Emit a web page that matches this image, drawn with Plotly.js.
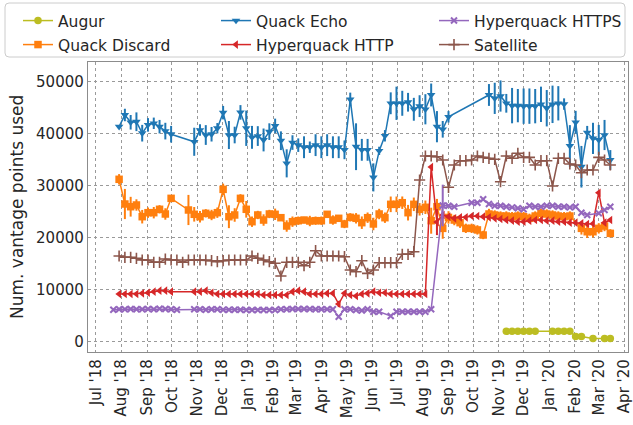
<!DOCTYPE html>
<html>
<head>
<meta charset="utf-8">
<script src="https://cdn.plot.ly/plotly-3.0.1.min.js"></script>
<style>html,body{margin:0;padding:0;background:#fff;}#chart{width:633px;height:425px;}</style>
</head>
<body>
<div id="chart"></div>
<script>
// Weekly measurement dates
var dates = [
 '2018-07-22','2018-07-29','2018-08-05','2018-08-12','2018-08-19','2018-08-26',
 '2018-09-02','2018-09-09','2018-09-16','2018-09-23','2018-09-30',
 '2018-10-07','2018-10-14','2018-10-21','2018-10-28',
 '2018-11-04','2018-11-11','2018-11-18','2018-11-25',
 '2018-12-02','2018-12-09','2018-12-16','2018-12-23','2018-12-30',
 '2019-01-06','2019-01-13','2019-01-20','2019-01-27',
 '2019-02-03','2019-02-10','2019-02-17','2019-02-24',
 '2019-03-03','2019-03-10','2019-03-17','2019-03-24','2019-03-31',
 '2019-04-07','2019-04-14','2019-04-21','2019-04-28',
 '2019-05-05','2019-05-12','2019-05-19','2019-05-26',
 '2019-06-02','2019-06-09','2019-06-16','2019-06-23','2019-06-30',
 '2019-07-07','2019-07-14','2019-07-21','2019-07-28',
 '2019-08-04','2019-08-11','2019-08-18','2019-08-25',
 '2019-09-01','2019-09-08','2019-09-15','2019-09-22','2019-09-29',
 '2019-10-06','2019-10-13','2019-10-20','2019-10-27',
 '2019-11-03','2019-11-10','2019-11-17','2019-11-24',
 '2019-12-01','2019-12-08','2019-12-15','2019-12-22','2019-12-29',
 '2020-01-05','2020-01-12','2020-01-19','2020-01-26',
 '2020-02-02','2020-02-09','2020-02-16','2020-02-23',
 '2020-03-01','2020-03-08','2020-03-15'
];

var quackEcho = [null,
 41350,43600,42200,42300,40100,41700,42000,41350,40500,39900,
 null,null,null,
 38450,40700,39750,39900,41050,44050,39750,39750,44100,41050,
 39300,39550,38800,40400,41500,38650,34300,38300,37800,37400,
 37400,37800,37400,37800,37400,37400,36900,46600,37500,36900,
 36900,31600,36700,39600,45850,45850,45850,46050,44700,45300,
 44700,47450,41350,40850,43250,
 null,null,null,null,null,null,
 47450,46800,47250,45850,45400,45400,45300,45300,45300,45650,
 44900,45650,45850,45700,37650,42200,33650,40200,39100,38800,
 39750,34950];
var quackEchoErr = [null,
 300,1200,1400,1800,1600,1300,1100,1300,1600,1600,
 null,null,null,
 2700,1100,1900,1400,1000,1300,2700,1600,1400,3400,
 2200,1900,2200,1600,1400,1800,2700,1400,1300,2100,
 1100,2100,2100,2100,2100,2100,1800,1300,4500,2100,
 2100,2700,800,1100,2100,3200,2400,1800,2200,2100,
 2900,2200,3000,1600,1100,
 null,null,null,null,null,null,
 2100,3000,3000,1800,3400,3200,3400,3400,3300,3400,
 3500,3600,3300,1100,4000,2200,4000,1300,3000,2900,
 2900,1900];

var quackDiscard = [null,
 31230,26480,25960,26290,24040,24810,24810,25460,24560,27570,
 null,null,
 25330,24500,24040,24690,24370,24810,29300,24040,24370,27570,
 25460,23080,24370,23400,24560,24500,23850,22250,23080,23270,
 23400,23210,23270,23270,24500,23400,23730,22640,23920,23730,
 22890,23850,22640,24560,23850,26420,26420,26730,24810,26420,
 25460,25850,23270,25960,21800,23900,
 23400,22890,21800,21800,21500,20520,24560,24370,24170,24170,
 24040,24170,24040,23730,24170,24690,24560,24370,24170,24040,
 24170,
 null,
 21800,21150,21150,21800,22250,20840];
var quackDiscardErr = [null,
 1000,2900,1900,1100,1300,1000,1100,800,1100,600,
 null,null,
 2900,1400,1100,800,1000,1000,1100,2200,1300,800,
 1600,1000,800,1100,800,1100,500,1100,1000,800,
 600,1000,800,800,600,900,600,800,800,1000,
 1200,1000,1200,1000,1000,1500,1500,1200,1500,1300,
 1200,1300,2500,1500,2000,1200,
 1000,1000,900,900,900,800,1000,900,900,900,
 900,900,900,900,900,900,900,900,900,900,
 900,
 null,
 1200,1200,1100,1000,1000,800];

var hyperquackHTTP = [null,
 9170,9170,9170,9170,9300,9420,9620,9810,9810,9620,
 null,null,null,
 9620,9620,9810,9420,9170,9170,9170,9170,9170,9170,
 9170,9170,8980,8980,8980,8980,8980,9620,9810,9620,
 9170,9170,9170,9300,9300,7250,9300,8980,8790,9170,
 9300,9620,9420,9420,9170,9170,9170,9170,9170,9170,
 9170,
 33600,23000,24370,24040,23730,23910,23910,24170,24170,24040,
 23910,23730,23600,23400,23270,23080,23080,23270,23400,23400,
 23270,23270,23080,23080,22890,22890,22770,22630,22700,28650,
 22890,23400];
var hyperquackHTTPErr = [null,
 0,0,0,0,0,0,0,0,0,0,
 null,null,null,
 0,0,0,0,0,0,0,0,0,0,
 0,0,0,0,0,0,0,0,0,0,
 0,0,0,0,0,600,0,0,0,0,
 0,0,0,0,0,0,0,0,0,0,
 0,
 0,2500,0,0,0,0,0,0,0,0,
 0,0,0,0,0,0,0,0,0,0,
 0,0,0,0,0,0,0,0,0,0,
 0,0];

var hyperquackHTTPS = [
 6150,6230,6230,6300,6230,6230,6300,6230,6350,6300,6230,6150,
 null,null,
 6230,6230,6150,6230,6230,6150,6150,6150,6150,6100,
 6100,6100,6100,6100,6100,6230,6230,6300,6300,6300,
 6300,6230,6230,6230,6230,4800,6230,6230,6100,6000,
 6230,5770,5770,null,4940,5770,5770,5770,5770,5770,
 5770,6230,
 null,
 26200,26150,25960,
 null,null,
 26730,26730,27380,26480,26150,26150,25960,25840,25650,25460,
 26150,25960,25960,26150,26150,25960,25960,25840,25960,24810,
 24370,
 null,
 24690,25330,25960];
var hyperquackHTTPSErr = [
 0,0,0,0,0,0,0,0,0,0,0,0,
 null,null,
 0,0,0,0,0,0,0,0,0,0,
 0,0,0,0,0,0,0,0,0,0,
 0,0,0,0,0,0,0,0,0,0,
 0,0,0,null,0,0,0,0,0,0,
 0,0,
 null,
 4000,0,0,
 null,null,
 0,0,0,0,0,0,0,0,0,0,
 0,0,0,0,0,0,0,0,0,0,
 0,
 null,
 0,0,0];

var satellite = [null,
 16480,16230,16230,16040,15710,15710,15270,15270,15900,15710,
 15710,15270,15710,15710,15710,15710,15580,15390,15580,15710,
 15710,15710,15710,16480,16040,15710,15390,15080,12640,15270,
 15270,15270,14620,15270,17500,16480,16480,16480,16480,16350,
 13790,13460,15580,13150,13790,15190,15190,15190,15190,16810,
 16810,17310,31100,35710,35710,35580,34940,29690,33980,34810,
 34810,34940,35710,35450,35270,35080,30770,35710,35270,36230,
 35450,35450,33980,34810,34810,29940,35270,35270,34170,33980,
 32500,33020,33020,35450,34940,33980];

var augurDates = ['2019-11-10','2019-11-17','2019-11-24','2019-12-01','2019-12-08','2019-12-15',
 '2020-01-05','2020-01-12','2020-01-19','2020-01-26','2020-02-02','2020-02-09',
 '2020-02-23','2020-03-08','2020-03-15'];
var augur = [1990,1990,2000,2000,1990,2000,2000,2000,1990,2000,1000,980,600,600,620];

var seriesNames = ['Augur','Quack Discard','Quack Echo','Hyperquack HTTP','Hyperquack HTTPS','Satellite'];
var yTitle = 'Num. vantage points used';

var FONT = 'DejaVu Sans, Liberation Sans, sans-serif';
var TXT = '#262626';

function errBar(arr, color) {
  return {type:'data', array:arr, visible:true, thickness:2, width:0, color:color};
}

var traces = [
  {x:augurDates, y:augur, name:seriesNames[0], type:'scatter', mode:'lines+markers', legend:'legend',
   line:{color:'#bcbd22', width:1.5}, marker:{symbol:'circle', size:7.5, color:'#bcbd22'}, connectgaps:true},
  {x:dates, y:quackDiscard, name:seriesNames[1], type:'scatter', mode:'lines+markers', legend:'legend2',
   line:{color:'#ff7f0e', width:1.5}, marker:{symbol:'square', size:7.5, color:'#ff7f0e'}, connectgaps:true,
   error_y:errBar(quackDiscardErr,'#ff7f0e')},
  {x:dates, y:quackEcho, name:seriesNames[2], type:'scatter', mode:'lines+markers', legend:'legend3',
   line:{color:'#1f77b4', width:1.5}, marker:{symbol:'triangle-down', size:7.5, color:'#1f77b4'}, connectgaps:true,
   error_y:errBar(quackEchoErr,'#1f77b4')},
  {x:dates, y:hyperquackHTTP, name:seriesNames[3], type:'scatter', mode:'lines+markers', legend:'legend4',
   line:{color:'#d62728', width:1.5}, marker:{symbol:'triangle-left', size:7.5, color:'#d62728'}, connectgaps:true,
   error_y:errBar(hyperquackHTTPErr,'#d62728')},
  {x:dates, y:hyperquackHTTPS, name:seriesNames[4], type:'scatter', mode:'lines+markers', legend:'legend5',
   line:{color:'#9467bd', width:1.5}, marker:{symbol:'x-thin-open', size:6, color:'#9467bd', line:{width:2, color:'#9467bd'}}, connectgaps:true,
   error_y:errBar(hyperquackHTTPSErr,'#9467bd')},
  {x:dates, y:satellite, name:seriesNames[5], type:'scatter', mode:'lines+markers', legend:'legend6',
   line:{color:'#8c564b', width:1.5}, marker:{symbol:'cross-thin-open', size:8, color:'#8c564b', line:{width:1.6, color:'#8c564b'}}, connectgaps:true}
];

// plot area in pixels
var W = 633, H = 425, L = 88, R = 5, T = 62, B = 73;
var pw = W - L - R, ph = H - T - B;
function px2x(px){ return (px - L) / pw; }
function py2y(py){ return (H - B - py) / ph; }
function roundRect(x0, y0, x1, y1, r) {
  var a = px2x(x0), b = px2x(x1), c = py2y(y0), d = py2y(y1);
  var rx = r / pw, ry = r / ph;
  return 'M ' + (a+rx) + ',' + c + ' L ' + (b-rx) + ',' + c + ' Q ' + b + ',' + c + ' ' + b + ',' + (c-ry) +
         ' L ' + b + ',' + (d+ry) + ' Q ' + b + ',' + d + ' ' + (b-rx) + ',' + d +
         ' L ' + (a+rx) + ',' + d + ' Q ' + a + ',' + d + ' ' + a + ',' + (d+ry) +
         ' L ' + a + ',' + (c-ry) + ' Q ' + a + ',' + c + ' ' + (a+rx) + ',' + c + ' Z';
}

function legendAt(xpx, ypx) {
  return {x: xpx / W, xref:'container', xanchor:'left', y: 1 - ypx / H, yref:'container', yanchor:'top',
          orientation:'v', bgcolor:'rgba(0,0,0,0)', borderwidth:0, font:{family:FONT, size:15.5, color:TXT},
          tracegroupgap:0};
}

var layout = {
  width: W, height: H, autosize: false,
  margin: {l:L, r:R, t:T, b:B, pad:0, autoexpand:false},
  paper_bgcolor:'#ffffff', plot_bgcolor:'#ffffff',
  font: {family:FONT, color:TXT, size:15},
  showlegend: true,
  legend:  legendAt(18, 4),
  legend2: legendAt(18, 28),
  legend3: legendAt(216, 4),
  legend4: legendAt(216, 28),
  legend5: legendAt(434, 4),
  legend6: legendAt(434, 28),
  xaxis: {
    type:'date', range:['2018-06-21 08:00','2020-04-05 10:00'],
    tickmode:'linear', tick0:'2018-07-01', dtick:'M1', tickformat:"%b '%y",
    tickangle:-90, tickfont:{family:FONT, size:15, color:TXT}, ticklabeloverflow:'allow',
    showgrid:true, gridcolor:'#9a9a9a', griddash:'dot', gridwidth:1,
    showline:true, linecolor:'#8c8c8c', linewidth:1.2, mirror:true,
    ticks:'', zeroline:false, automargin:false
  },
  yaxis: {
    range:[-1980, 53790], tickmode:'linear', tick0:0, dtick:10000, tickformat:'d',
    tickfont:{family:FONT, size:15, color:TXT},
    showgrid:true, gridcolor:'#9a9a9a', griddash:'dot', gridwidth:1,
    showline:true, linecolor:'#8c8c8c', linewidth:1.2, mirror:true,
    ticks:'', zeroline:false, automargin:false
  },
  annotations: [
    {text: yTitle, xref:'paper', yref:'paper', x: px2x(17), y: 0.5, xanchor:'center', yanchor:'middle',
     textangle:-90, showarrow:false, font:{family:FONT, size:17, color:TXT}}
  ],
  shapes: [
    {type:'path', xref:'paper', yref:'paper', path: roundRect(5, 3, 625, 57, 4),
     line:{color:'#cccccc', width:1}, fillcolor:'rgba(255,255,255,0.8)', layer:'below'}
  ]
};

Plotly.newPlot('chart', traces, layout, {staticPlot:true, displayModeBar:false});
</script>
</body>
</html>
